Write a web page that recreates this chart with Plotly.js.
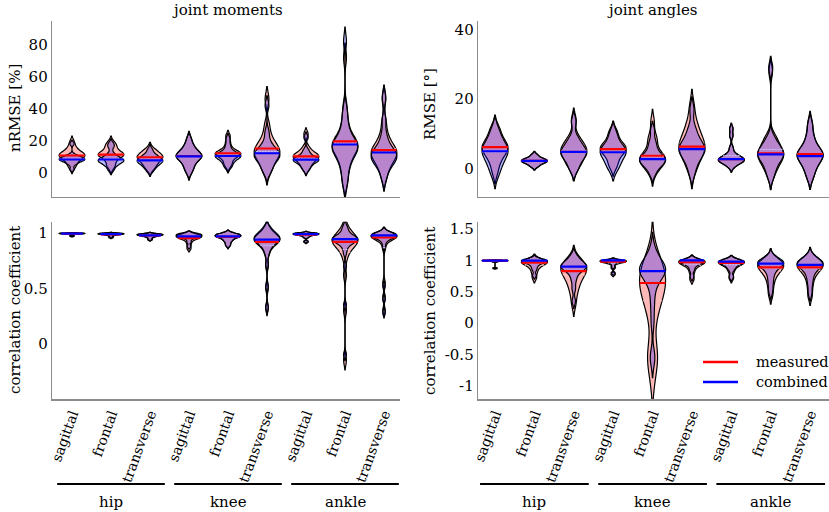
<!DOCTYPE html>
<html>
<head>
<meta charset="utf-8">
<script src="https://cdn.plot.ly/plotly-3.0.1.min.js"></script>
<style>
  html, body { margin: 0; padding: 0; background: #fff; }
  #chart { width: 829px; height: 512px; }
</style>
</head>
<body>
<div id="chart"></div>
<script>
// categories
const tickLabels = ['sagittal', 'frontal', 'transverse', 'sagittal', 'frontal', 'transverse', 'sagittal', 'frontal', 'transverse'];
const joints = ['hip', 'knee', 'ankle'];
const positions = [1, 2, 3, 4, 5, 6, 7, 8, 9];
const seriesNames = ['measured', 'combined'];

const momErrMeasured = [
    [3, 5, 7, 8, 9, 10, 10.5, 11, 11, 12, 13, 14, 16, 19],
    [3, 5, 7, 9, 10, 10.5, 11, 11.5, 12, 12.5, 14, 16, 17, 19],
    [2, 4, 5.5, 7, 8, 9, 9.5, 10, 11, 12, 13, 15],
    [0, 3, 5, 7, 8.5, 9.5, 10, 10.5, 11, 12, 13.5, 15, 17, 21],
    [4, 6, 8, 9.5, 10.5, 11, 11.5, 12, 12.5, 13, 14, 16, 19, 23],
    [0, 3, 6, 8.5, 10, 11.5, 12.5, 13.5, 14.5, 16, 18, 20, 24, 30, 46],
    [2, 4.5, 6, 7.5, 8.5, 9.5, 10, 10.5, 11, 12, 13.5, 16, 24],
    [-7, -2, 3, 6, 9, 11, 13, 14, 15, 16, 17, 18, 19, 20, 21, 23, 26, 30, 35, 42, 72],
    [-3, 2, 5, 7, 9, 10.5, 11.5, 12.5, 13.5, 14.5, 16, 18, 21, 25, 32, 46]
];
const momErrCombined = [
    [2, 5, 6, 7, 7.5, 8, 8, 8.5, 9, 9.5, 10, 11, 18],
    [1.5, 3.5, 5, 6, 6.5, 7, 7.5, 8, 8.5, 9, 10, 12, 16, 18],
    [1, 3, 4.5, 5.5, 6.5, 7, 7.5, 8, 9, 10, 11, 14],
    [0.5, 3, 5, 7, 8.5, 9.5, 10, 10.5, 11, 12, 13.5, 15, 17, 20.5],
    [3, 5, 6.5, 8, 9, 9.5, 10, 10.5, 11, 11.5, 12.5, 14, 17, 21],
    [0, 2.5, 5, 7, 8.5, 9.5, 10.5, 11, 12, 13, 14.5, 16, 19, 25, 42],
    [1.5, 3.5, 5, 6.5, 7, 7.5, 8, 8.5, 9, 10, 11.5, 14, 22],
    [-8, -3, 2, 5, 8, 10, 12, 13, 14, 15, 16, 17, 18, 19, 20, 22, 25, 29, 34, 40, 82],
    [-4, 1, 4, 6, 7.5, 8.5, 9.5, 10.5, 11.5, 12.5, 14, 16, 19, 24, 33, 47]
];
const momErrMedMeasured = [10.6, 11.2, 9.5, 10.3, 12, 15, 10, 19.5, 14];
const momErrMedCombined = [8.1, 8.1, 7.5, 10.0, 10.3, 12, 8, 17.5, 12.5];

// joint angles, RMSE [deg]
const angErrMeasured = [
    [-1, 1.5, 3, 4, 5, 5.5, 6, 6.5, 7, 8, 9, 10.5, 12],
    [0.5, 1.2, 1.6, 1.9, 2.1, 2.3, 2.5, 2.8, 3.2, 4],
    [0, 1.5, 2.5, 3.5, 4.5, 5, 5.5, 6, 7, 8, 9.5, 14],
    [0.5, 2, 3.5, 4.5, 5, 5.5, 6, 6.5, 7, 8, 9.5, 11],
    [-1.5, 0, 1, 1.5, 2, 2.5, 3, 3, 3.5, 4, 5, 7, 8.5, 9.5, 13.5],
    [-1, 1.5, 3, 4, 5, 6, 6.5, 7, 8, 9, 10.5, 12, 14, 18],
    [0.5, 1.2, 1.6, 1.9, 2.1, 2.3, 2.5, 2.7, 2.9, 3.1, 3.4, 3.8, 4.5, 6, 9.5, 11.5],
    [-2.5, -0.5, 0.5, 1.5, 2.5, 3, 3.5, 4, 4.5, 5, 5.5, 6.5, 7.5, 8.5, 9.5, 28],
    [-2.5, -0.5, 1, 2, 3, 3.5, 4, 4.5, 5, 6, 7.5, 9.5, 13]
];
const angErrCombined = [
    [-2, 0, 1.5, 2.5, 3.5, 4.5, 5, 5.5, 6, 7, 8, 9.5, 11.5],
    [0.6, 1.2, 1.6, 1.9, 2.1, 2.3, 2.5, 2.8, 3.1, 3.9],
    [-0.5, 1, 2.5, 3.5, 4, 4.5, 5, 5.5, 6.5, 7.5, 9, 13.5],
    [-0.5, 1, 2, 3, 4, 4.5, 5, 5.5, 6, 7, 8.5, 10.5],
    [-1.5, 0, 1, 1.5, 2, 2.3, 2.6, 3, 3.5, 4, 5, 6.5, 8, 11],
    [-1.5, 1, 2.5, 3.5, 4.5, 5, 5.5, 6, 6.5, 7.5, 8.5, 10, 12, 17],
    [0.5, 1.2, 1.6, 1.9, 2.1, 2.3, 2.5, 2.7, 2.9, 3.1, 3.4, 3.8, 4.5, 6, 9.5, 11.5],
    [-2.5, -0.5, 1, 2, 3, 3.5, 4, 4.5, 5, 5.5, 6.5, 7.5, 9, 29],
    [-2.5, -0.5, 1, 2, 3, 3.5, 4, 4.5, 5, 6, 7.5, 9.5, 12.5]
];
const angErrMedMeasured = [6.2, 2.2, 4.8, 5.6, 3.7, 6.3, 2.7, 4.4, 4.2];
const angErrMedCombined = [5.0, 2.2, 4.8, 4.7, 2.7, 5.6, 2.7, 4.1, 3.6];

// joint moments, correlation coefficient
const momCorrMeasured = [
    [0.97, 0.985, 0.99, 0.992, 0.994, 0.995, 0.996, 0.997, 0.998, 0.998, 0.999],
    [0.96, 0.975, 0.983, 0.987, 0.99, 0.992, 0.994, 0.995, 0.996, 0.997],
    [0.94, 0.96, 0.97, 0.975, 0.98, 0.983, 0.985, 0.988, 0.99, 0.992],
    [0.86, 0.9, 0.93, 0.945, 0.955, 0.96, 0.965, 0.97, 0.975, 0.98, 0.985, 0.99],
    [0.89, 0.92, 0.94, 0.955, 0.965, 0.97, 0.975, 0.98, 0.985, 0.99, 0.995],
    [0.32, 0.5, 0.7, 0.8, 0.84, 0.87, 0.89, 0.9, 0.91, 0.92, 0.93, 0.935, 0.94, 0.945, 0.95, 0.96, 0.97, 0.98, 0.99, 1.0, 1.02, 1.05],
    [0.92, 0.96, 0.975, 0.982, 0.987, 0.99, 0.993, 0.995, 0.997, 0.999],
    [-0.15, 0.3, 0.62, 0.76, 0.82, 0.85, 0.87, 0.89, 0.9, 0.91, 0.92, 0.93, 0.94, 0.95, 0.96, 0.97, 0.98, 1.0, 1.03, 1.07],
    [0.3, 0.42, 0.55, 0.86, 0.91, 0.935, 0.95, 0.957, 0.962, 0.966, 0.97, 0.974, 0.978, 0.982, 0.986, 0.99, 0.995]
];
const momCorrCombined = [
    [0.975, 0.987, 0.991, 0.993, 0.995, 0.996, 0.997, 0.998, 0.998, 0.999, 0.999],
    [0.965, 0.978, 0.985, 0.988, 0.991, 0.993, 0.995, 0.996, 0.997, 0.998],
    [0.945, 0.962, 0.972, 0.977, 0.981, 0.984, 0.986, 0.989, 0.991, 0.993],
    [0.88, 0.92, 0.95, 0.96, 0.965, 0.97, 0.975, 0.98, 0.985, 0.99, 0.993, 0.996],
    [0.89, 0.92, 0.94, 0.955, 0.965, 0.97, 0.975, 0.98, 0.985, 0.99, 0.995],
    [0.33, 0.52, 0.72, 0.81, 0.85, 0.88, 0.9, 0.91, 0.92, 0.93, 0.94, 0.945, 0.95, 0.955, 0.96, 0.97, 0.98, 0.99, 1.0, 1.01, 1.03, 1.06],
    [0.925, 0.962, 0.976, 0.983, 0.988, 0.991, 0.994, 0.996, 0.997, 0.999],
    [-0.1, 0.35, 0.7, 0.82, 0.87, 0.9, 0.91, 0.92, 0.93, 0.935, 0.94, 0.945, 0.95, 0.955, 0.96, 0.97, 0.98, 1.0, 1.03, 1.06],
    [0.28, 0.4, 0.52, 0.88, 0.93, 0.95, 0.96, 0.966, 0.971, 0.975, 0.979, 0.983, 0.986, 0.989, 0.992, 0.995, 0.998]
];
const momCorrMedMeasured = [0.993, 0.988, 0.978, 0.955, 0.965, 0.92, 0.985, 0.92, 0.96];
const momCorrMedCombined = [0.995, 0.99, 0.98, 0.97, 0.97, 0.94, 0.99, 0.945, 0.98];

// joint angles, correlation coefficient
const angCorrMeasured = [
    [0.87, 0.975, 0.985, 0.99, 0.993, 0.995, 0.997, 0.998, 0.999, 0.9995],
    [0.72, 0.8, 0.86, 0.9, 0.93, 0.95, 0.96, 0.97, 0.98, 0.99, 1.0, 1.02],
    [0.3, 0.45, 0.55, 0.62, 0.68, 0.73, 0.77, 0.8, 0.83, 0.86, 0.88, 0.9, 0.93, 0.96, 1.0, 1.05],
    [0.78, 0.88, 0.94, 0.965, 0.975, 0.98, 0.985, 0.99, 0.995, 1.0],
    [-0.9, -0.65, -0.55, -0.48, -0.4, 0.05, 0.2, 0.3, 0.38, 0.45, 0.52, 0.58, 0.62, 0.66, 0.7, 0.74, 0.78, 0.82, 0.88, 0.95, 1.05, 1.15],
    [0.7, 0.8, 0.87, 0.91, 0.94, 0.955, 0.965, 0.975, 0.985, 0.995, 1.01],
    [0.72, 0.82, 0.88, 0.92, 0.945, 0.96, 0.97, 0.98, 0.99, 1.0],
    [0.45, 0.58, 0.68, 0.75, 0.8, 0.84, 0.87, 0.89, 0.91, 0.93, 0.95, 0.97, 1.0, 1.04],
    [0.43, 0.57, 0.68, 0.76, 0.81, 0.85, 0.88, 0.9, 0.92, 0.94, 0.96, 0.98, 1.01, 1.06]
];
const angCorrCombined = [
    [0.88, 0.977, 0.987, 0.991, 0.994, 0.996, 0.997, 0.998, 0.999, 0.9995],
    [0.76, 0.85, 0.9, 0.94, 0.96, 0.975, 0.985, 0.99, 0.995, 1.0, 1.01, 1.02],
    [0.35, 0.55, 0.68, 0.76, 0.82, 0.85, 0.87, 0.89, 0.9, 0.91, 0.92, 0.94, 0.96, 0.99, 1.03, 1.08],
    [0.8, 0.9, 0.95, 0.975, 0.985, 0.99, 0.993, 0.996, 0.998, 1.0],
    [-0.6, -0.5, 0.0, 0.25, 0.45, 0.6, 0.7, 0.75, 0.78, 0.8, 0.82, 0.84, 0.86, 0.88, 0.9, 0.92, 0.95, 1.0, 1.08, 1.18],
    [0.74, 0.84, 0.9, 0.935, 0.955, 0.97, 0.98, 0.99, 0.995, 1.0, 1.01],
    [0.74, 0.85, 0.9, 0.935, 0.955, 0.97, 0.98, 0.99, 0.995, 1.0],
    [0.5, 0.62, 0.72, 0.8, 0.86, 0.9, 0.92, 0.94, 0.955, 0.965, 0.975, 0.99, 1.01, 1.05],
    [0.48, 0.62, 0.72, 0.8, 0.85, 0.89, 0.91, 0.93, 0.95, 0.96, 0.975, 0.99, 1.02, 1.07]
];
const angCorrMedMeasured = [0.995, 0.965, 0.83, 0.98, 0.64, 0.97, 0.96, 0.89, 0.89];
const angCorrMedCombined = [0.997, 0.995, 0.9, 1.0, 0.83, 1.0, 0.98, 0.95, 0.93];

const VIOLIN_WIDTH = 0.66;
const BW_SCALE = 0.8;
const FONT = 'DejaVu Serif';

// same quartile interpolation that plotly uses
function interp(sorted, p) {
    const x = p * sorted.length - 0.5;
    if (x < 0) return sorted[0];
    if (x > sorted.length - 1) return sorted[sorted.length - 1];
    const frac = x % 1;
    return frac * sorted[Math.ceil(x)] + (1 - frac) * sorted[Math.floor(x)];
}

function bandwidthOf(vals) {
    const s = vals.slice().sort((a, b) => a - b);
    const n = s.length;
    const mean = s.reduce((a, b) => a + b, 0) / n;
    const sd = Math.sqrt(s.reduce((a, v) => a + (v - mean) * (v - mean), 0) / (n - 1));
    const iqr = interp(s, 0.75) - interp(s, 0.25);
    const a = iqr > 0 ? Math.min(sd, iqr / 1.349) : sd;
    return BW_SCALE * 1.059 * a * Math.pow(n, -0.2);
}

function makeKDE(vals, bw) {
    return function(t) {
        let sum = 0;
        for (const v of vals) {
            const z = (t - v) / bw;
            sum += Math.exp(-0.5 * z * z);
        }
        return sum / (vals.length * bw * Math.sqrt(2 * Math.PI));
    };
}

// half width of the drawn violin at value y (in category units)
function halfWidthAt(vals, bw, y) {
    const kde = makeKDE(vals, bw);
    const lo = Math.min(...vals) - 2 * bw;
    const hi = Math.max(...vals) + 2 * bw;
    const n = Math.ceil((hi - lo) / (bw / 3));
    const step = (hi - lo) / n;
    let maxV = 0;
    for (let t = lo; t < hi + step / 2; t += step) maxV = Math.max(maxV, kde(t));
    return VIOLIN_WIDTH / 2 * kde(y) / maxV;
}

const panels = [
    { xa: 'x', ya: 'y', measured: momErrMeasured, combined: momErrCombined, medM: momErrMedMeasured, medC: momErrMedCombined },
    { xa: 'x2', ya: 'y2', measured: angErrMeasured, combined: angErrCombined, medM: angErrMedMeasured, medC: angErrMedCombined },
    { xa: 'x3', ya: 'y3', measured: momCorrMeasured, combined: momCorrCombined, medM: momCorrMedMeasured, medC: momCorrMedCombined },
    { xa: 'x4', ya: 'y4', measured: angCorrMeasured, combined: angCorrCombined, medM: angCorrMedMeasured, medC: angCorrMedCombined }
];

const series = [
    { key: 'measured', med: 'medM', fill: 'rgba(255,0,0,0.28)', mean: '#ffc4c4', line: '#ff0000' },
    { key: 'combined', med: 'medC', fill: 'rgba(0,0,255,0.28)', mean: '#c8c8ff', line: '#0000ff' }
];

const traces = [];
const medianTraces = [];

panels.forEach(function(p, pi) {
    series.forEach(function(s) {
        const mx = [], my = [];
        positions.forEach(function(pos, i) {
            const vals = p[s.key][i];
            const bw = bandwidthOf(vals);
            traces.push({
                type: 'violin',
                x0: pos,
                y: vals,
                xaxis: p.xa,
                yaxis: p.ya,
                width: VIOLIN_WIDTH,
                scalegroup: 'p' + pi + s.key + i,
                scalemode: 'width',
                bandwidth: bw,
                spanmode: 'soft',
                points: false,
                box: { visible: false },
                meanline: { visible: true, color: s.mean, width: 1 },
                line: { color: '#000', width: 1.2 },
                fillcolor: s.fill,
                hoverinfo: 'skip',
                showlegend: false
            });
            const m = p[s.med][i];
            const hw = halfWidthAt(vals, bw, m);
            mx.push(pos - hw, pos + hw, null);
            my.push(m, m, null);
        });
        medianTraces.push({
            type: 'scatter', mode: 'lines',
            x: mx, y: my, xaxis: p.xa, yaxis: p.ya,
            line: { color: s.line, width: 2.2 },
            hoverinfo: 'skip', showlegend: false
        });
    });
});

const axisBase = {
    showline: true, linecolor: '#8c8c8c', linewidth: 1.3,
    showgrid: false, zeroline: false, ticks: '', mirror: false,
    tickfont: { family: FONT, size: 15, color: '#000' }
};

const topDom = [1 - 197 / 512, 1 - 20.5 / 512];
const botDom = [1 - 399.3 / 512, 1 - 221.7 / 512];
const leftDom = [52 / 829, 400 / 829];
const rightDom = [478 / 829, 1];

const bottomX = {
    tickvals: positions, ticktext: tickLabels, tickangle: -70,
    tickfont: { family: FONT, size: 14, color: '#000' }
};

const annotations = [
    { text: 'joint moments', x: 227 / 829, y: 1 - 10 / 512 },
    { text: 'joint angles', x: 652 / 829, y: 1 - 10 / 512 },
    { text: 'nRMSE [%]', x: 15 / 829, y: 1 - 108 / 512, textangle: -90 },
    { text: 'RMSE [°]', x: 430 / 829, y: 1 - 104 / 512, textangle: -90 },
    { text: 'correlation coefficient', x: 15 / 829, y: 1 - 310 / 512, textangle: -90 },
    { text: 'correlation coefficient', x: 430 / 829, y: 1 - 311 / 512, textangle: -90 }
].map(a => Object.assign({
    xref: 'paper', yref: 'paper', showarrow: false,
    xanchor: 'center', yanchor: 'middle',
    font: { family: FONT, size: 15, color: '#000' }
}, a));

const shapes = [];
['x3', 'x4'].forEach(function(xa) {
    joints.forEach(function(j, g) {
        shapes.push({
            type: 'line', xref: xa, yref: 'paper',
            x0: 3 * g + 0.62, x1: 3 * g + 3.38,
            y0: 1 - 484 / 512, y1: 1 - 484 / 512,
            line: { color: '#000', width: 2 }
        });
        annotations.push({
            text: j, xref: xa, yref: 'paper', x: 3 * g + 2, y: 1 - 502 / 512,
            showarrow: false, xanchor: 'center', yanchor: 'middle',
            font: { family: FONT, size: 15, color: '#000' }
        });
    });
});

// legend drawn in the lower right panel
series.forEach(function(s, k) {
    const yLeg = 1 - (362 + 20 * k) / 512;
    shapes.push({
        type: 'line', xref: 'paper', yref: 'paper',
        x0: 703 / 829, x1: 738 / 829, y0: yLeg, y1: yLeg,
        line: { color: s.line, width: 2.5 }
    });
    annotations.push({
        text: seriesNames[k], xref: 'paper', yref: 'paper', x: 754 / 829, y: yLeg,
        showarrow: false, xanchor: 'left', yanchor: 'middle',
        font: { family: FONT, size: 14.5, color: '#000' }
    });
});

const layout = {
    width: 829, height: 512,
    margin: { l: 0, r: 0, t: 0, b: 0 },
    paper_bgcolor: '#fff', plot_bgcolor: '#fff',
    font: { family: FONT, size: 15, color: '#000' },
    violinmode: 'overlay',
    hovermode: false,
    showlegend: false,
    xaxis: Object.assign({}, axisBase, { domain: leftDom, range: [0.487, 9.41], anchor: 'y', showticklabels: false }),
    yaxis: Object.assign({}, axisBase, { domain: topDom, range: [-15.4, 95.2], anchor: 'x', tickvals: [0, 20, 40, 60, 80] }),
    xaxis2: Object.assign({}, axisBase, { domain: rightDom, range: [0.568, 9.48], anchor: 'y2', showticklabels: false }),
    yaxis2: Object.assign({}, axisBase, { domain: topDom, range: [-8.2, 42.7], anchor: 'x2', tickvals: [0, 20, 40] }),
    xaxis3: Object.assign({}, axisBase, bottomX, { domain: leftDom, range: [0.487, 9.41], anchor: 'y3' }),
    yaxis3: Object.assign({}, axisBase, { domain: botDom, range: [-0.506, 1.103], anchor: 'x3', tickvals: [0, 0.5, 1], ticktext: ['0', '0.5', '1'] }),
    xaxis4: Object.assign({}, axisBase, bottomX, { domain: rightDom, range: [0.568, 9.48], anchor: 'y4' }),
    yaxis4: Object.assign({}, axisBase, { domain: botDom, range: [-1.212, 1.616], anchor: 'x4', tickvals: [-1, -0.5, 0, 0.5, 1, 1.5], ticktext: ['-1', '-0.5', '0', '0.5', '1', '1.5'] }),
    annotations: annotations,
    shapes: shapes
};

Plotly.newPlot('chart', traces.concat(medianTraces), layout, { staticPlot: true, displayModeBar: false });
</script>
</body>
</html>
